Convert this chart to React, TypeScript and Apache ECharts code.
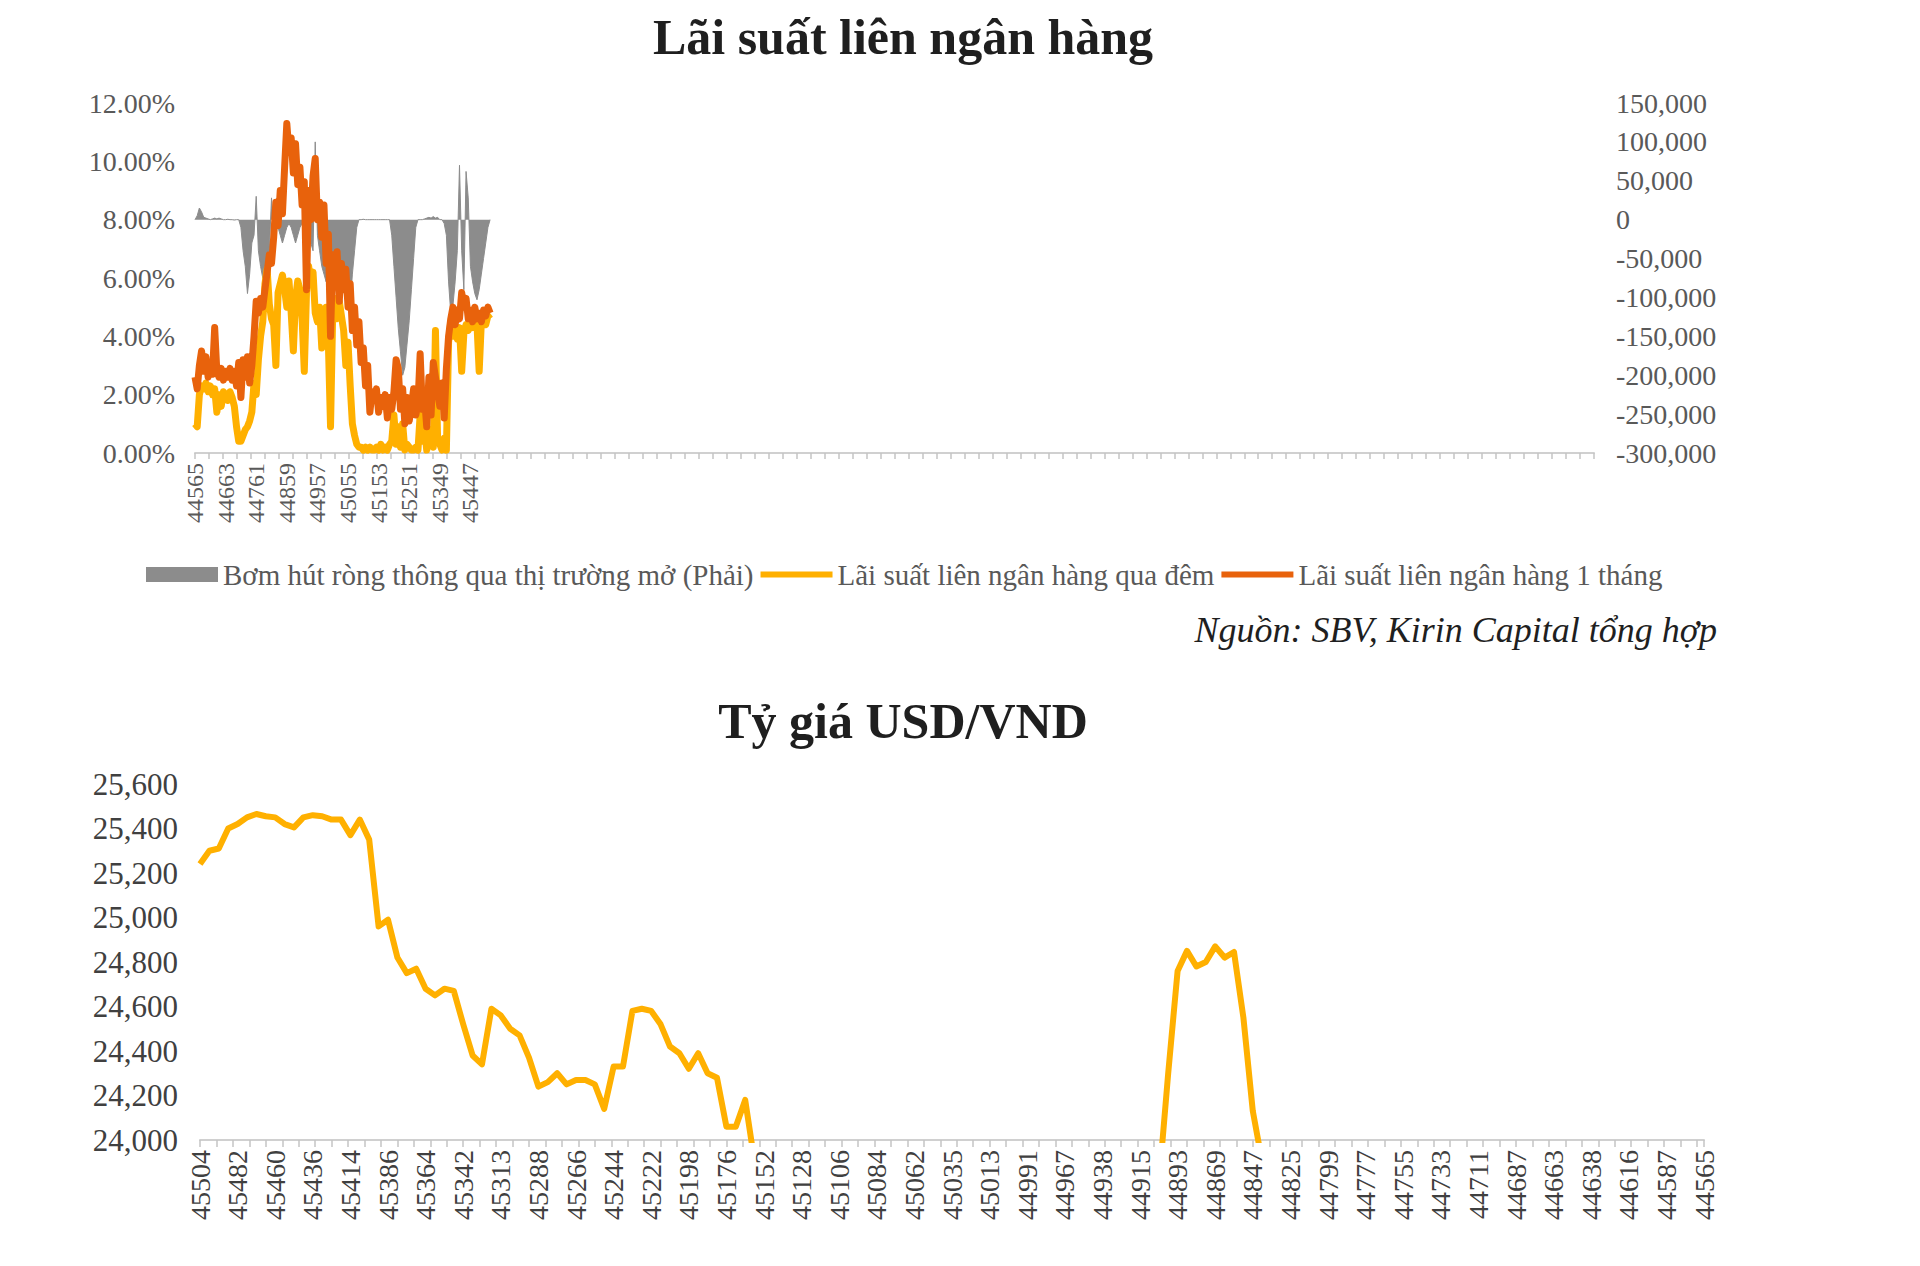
import React, { useEffect, useRef } from 'react';
import * as echarts from 'echarts';

const FONT = '"Liberation Serif", "Times New Roman", serif';

const TOP_TITLE = 'Lãi suất liên ngân hàng';
const BOTTOM_TITLE = 'Tỷ giá USD/VND';
const SOURCE = 'Nguồn: SBV, Kirin Capital tổng hợp';
const NAME_NET = 'Bơm hút ròng thông qua thị trường mở (Phải)';
const NAME_ON = 'Lãi suất liên ngân hàng qua đêm';
const NAME_1M = 'Lãi suất liên ngân hàng 1 tháng';

// ---- Top chart: interbank rates (x = trading-day index) ----
const TOP_X_LABELS = ['44565', '44663', '44761', '44859', '44957', '45055', '45153', '45251', '45349', '45447'];
const TOP_LABEL_STEP = 70;
const TOP_TICK_STEP = 32;
const TOP_X_MAX = 3200;
const TOP_SAMPLE_STEP = 5;

const oneMonth = [
  2.6, 2.2, 3.0, 3.5, 2.8, 3.3, 2.6, 3.0, 2.7, 4.3,
  2.8, 2.6, 2.9, 2.5, 2.8, 2.6, 2.9, 2.5, 2.8, 2.3,
  3.1, 1.9, 3.2, 2.6, 3.3, 2.4, 3.0, 4.0, 5.2, 4.8,
  5.3, 5.0, 5.6, 6.2, 6.8, 6.5, 7.4, 8.6, 7.8, 9.0,
  8.2, 9.8, 11.3, 10.3, 10.8, 9.6, 10.6, 9.2, 9.8, 8.5,
  9.3, 5.6, 9.0, 8.0, 9.5, 10.1, 8.0, 8.6, 7.4, 8.5,
  6.5, 7.5, 4.0, 6.8, 6.0, 6.9, 5.2, 6.5, 5.6, 6.3,
  5.0, 5.8, 4.2, 5.0, 3.7, 4.5, 3.1, 3.6, 2.3, 3.0,
  1.4, 2.1, 1.8, 2.2, 1.4, 1.9, 1.6, 2.0, 1.2, 1.9,
  1.5, 2.1, 3.2, 2.9, 1.5, 2.2, 1.0, 1.9, 1.1, 1.6,
  2.2, 1.3, 1.7, 3.4, 1.5, 1.9, 0.9, 2.6, 1.3, 3.1,
  2.6, 2.1, 1.6, 2.4, 1.2, 2.9, 4.0, 4.6, 5.0, 4.4,
  4.9, 4.6, 5.5, 5.0, 5.3, 4.6, 4.9, 4.5, 5.0, 4.6,
  4.8, 4.5, 4.9, 4.7, 5.0, 4.8,
];

const overnight = [
  1.0, 0.9, 2.0, 2.3, 2.2, 2.4, 2.1, 2.3, 2.0, 2.2,
  1.4, 2.0, 1.6, 2.1, 2.0, 1.8, 2.1, 1.9, 1.6, 0.9,
  0.4, 0.4, 0.6, 0.8, 0.9, 1.1, 1.4, 2.4, 2.0, 3.2,
  4.0, 4.5, 5.8, 6.3, 5.1, 4.6, 4.4, 3.0, 5.5, 5.8,
  6.1, 5.6, 5.0, 5.9, 4.8, 3.5, 5.3, 5.9, 5.6, 4.6,
  2.8, 5.5, 6.4, 5.8, 6.2, 4.8, 4.5, 5.0, 3.6, 4.4,
  5.0, 3.8, 0.9, 4.8, 5.3, 4.6, 5.2, 4.7, 4.2, 3.0,
  3.8, 2.3, 1.0, 0.6, 0.3, 0.2, 0.2, 0.1, 0.2, 0.1,
  0.2, 0.1, 0.1, 0.2, 0.1, 0.3, 0.1, 0.2, 0.1, 0.3,
  0.4, 1.3, 0.3, 0.9, 0.2, 1.0, 0.1, 0.3, 0.2, 0.1,
  0.1, 0.2, 0.1, 1.3, 0.4, 0.9, 0.1, 0.5, 0.8, 0.2,
  4.2, 0.4, 0.3, 0.1, 0.5, 0.1, 3.8, 4.5, 4.0, 4.2,
  3.9, 4.3, 2.8, 4.1, 4.4, 4.2, 4.5, 4.3, 4.6, 4.4,
  2.8, 4.5, 4.6, 4.4, 4.7, 4.6,
];

const netInjection = [
  0, 5000, 15000, 10000, 3000, 2000, 1000, 0, 1000, 2000,
  1000, 2000, 1000, 0, 0, 500, 0, 0, -500, 0,
  0, -10000, -40000, -60000, -95000, -70000, -30000, -20000, 30000, -40000,
  -60000, -75000, -80000, -50000, -40000, 28000, -10000, -5000, -10000, -20000,
  -30000, -20000, -10000, -5000, -10000, -20000, -30000, -20000, -10000, -5000,
  0, -20000, -10000, -30000, -40000, 100000, -20000, -40000, -60000, -70000,
  -80000, -30000, -40000, -50000, -55000, -60000, -70000, -80000, -90000, -100000,
  -105000, -110000, -70000, -40000, -10000, 0, 0, 500, 0, 0,
  0, 0, 0, 0, 0, 0, 0, 0, 0, 0,
  -20000, -60000, -100000, -140000, -170000, -200000, -190000, -160000, -130000, -90000,
  -50000, -10000, 0, 0, 0, 1000, 2000, 3000, 2000, 4000,
  2000, 3000, 0, 0, -5000, -20000, -80000, -120000, -110000, -80000,
  -40000, 70000, -40000, -90000, 62000, 28000, -60000, -80000, -95000, -103000,
  -90000, -70000, -50000, -30000, -10000, 0,
];

// ---- Bottom chart: USD/VND (x = trading-day index, newest on the left) ----
const BOTTOM_X_LABELS = [
  '45504', '45482', '45460', '45436', '45414', '45386', '45364', '45342', '45313', '45288',
  '45266', '45244', '45222', '45198', '45176', '45152', '45128', '45106', '45084', '45062',
  '45035', '45013', '44991', '44967', '44938', '44915', '44893', '44869', '44847', '44825',
  '44799', '44777', '44755', '44733', '44711', '44687', '44663', '44638', '44616', '44587',
  '44565',
];
const BOTTOM_LABEL_STEP = 16;
const BOTTOM_TICK_STEP = 7;
const BOTTOM_X_MAX = 640;
const BOTTOM_SAMPLE_STEP = 4;

const usdVnd = [
  25240, 25300, 25310, 25400, 25420, 25450, 25465, 25455, 25450, 25420,
  25405, 25450, 25460, 25455, 25440, 25440, 25370, 25440, 25350, 24960,
  24990, 24820, 24750, 24770, 24680, 24650, 24680, 24670, 24520, 24380,
  24340, 24590, 24560, 24500, 24470, 24370, 24240, 24260, 24300, 24250,
  24270, 24270, 24250, 24140, 24330, 24330, 24580, 24590, 24580, 24520,
  24420, 24390, 24320, 24390, 24300, 24280, 24060, 24060, 24180, 23900,
  23850, 23800, 23780, 23750, 23720, 23700, 23690, 23680, 23650, 23620,
  23600, 23580, 23560, 23540, 23520, 23500, 23480, 23470, 23460, 23450,
  23460, 23470, 23480, 23500, 23520, 23550, 23580, 23600, 23620, 23640,
  23660, 23650, 23640, 23630, 23620, 23600, 23580, 23560, 23600, 23650,
  23700, 23750,
  23800, 24300, 24760, 24850, 24780, 24800, 24870, 24820, 24845, 24550,
  24130, 23900,
  23900, 23860, 23800, 23720, 23690, 23650, 23600, 23560, 23480, 23470,
  23420, 23400, 23380, 23390, 23350, 23300, 23320, 23280, 23260, 23270,
  23230, 23250, 23210, 23200, 23220, 23190, 23170, 23180, 23140, 23160,
  23120, 23100, 23130, 23090, 23080, 23110, 23060, 23040, 23070, 23020,
  23010, 23050, 23000, 22990, 23020, 22980, 22960,
];

const GRAY = '#8c8c8c';
const YELLOW = '#FFB000';
const ORANGE = '#E8620C';
const AXIS_LINE = '#d0d0d0';
// legend icon: a thick horizontal bar centred in a 72x15 box
const LINE_ICON = 'path://M0,0 L0,0 M0,4.5 L72,4.5 L72,10.5 L0,10.5 Z M72,15 L72,15';

function toPairs(values: number[], step: number) {
  return values.map((v, i) => [i * step, v]);
}

function labelAt(labels: string[], step: number) {
  return (v: number) => {
    const k = Math.round(v / step);
    if (Math.abs(v - k * step) > 1e-6) return '';
    return labels[k] ?? '';
  };
}

export default function App() {
  const ref = useRef<HTMLDivElement>(null);

  useEffect(() => {
    document.body.style.margin = '0';
    if (!ref.current) return;
    const chart = echarts.init(ref.current, undefined, { renderer: 'svg' });

    const option: any = {
      animation: false,
      backgroundColor: '#ffffff',
      textStyle: { fontFamily: FONT },
      graphic: [
        {
          type: 'text', x: 903, y: 37, silent: true,
          style: { text: TOP_TITLE, fontFamily: FONT, fontSize: 50, fontWeight: 'bold', fill: '#1f1f1f', align: 'center', verticalAlign: 'middle' },
        },
        {
          type: 'text', x: 903, y: 721, silent: true,
          style: { text: BOTTOM_TITLE, fontFamily: FONT, fontSize: 50, fontWeight: 'bold', fill: '#1f1f1f', align: 'center', verticalAlign: 'middle' },
        },
        {
          type: 'text', x: 1717, y: 630, silent: true,
          style: { text: SOURCE, fontFamily: FONT, fontSize: 36, fontStyle: 'italic', fill: '#1f1f1f', align: 'right', verticalAlign: 'middle' },
        },
      ],
      legend: {
        left: 141,
        top: 555,
        itemWidth: 72,
        itemHeight: 15,
        itemGap: 7,
        textStyle: { fontFamily: FONT, fontSize: 29, color: '#595959' },
        data: [
          { name: NAME_NET, icon: 'rect' },
          { name: NAME_ON, icon: LINE_ICON },
          { name: NAME_1M, icon: LINE_ICON },
        ],
      },
      grid: [
        { left: 195, top: 103, width: 1399, height: 350, containLabel: false },
        { left: 200, top: 784, width: 1504, height: 356, containLabel: false },
      ],
      xAxis: [
        {
          gridIndex: 0, type: 'value', position: 'bottom', min: 0, max: TOP_X_MAX, interval: TOP_LABEL_STEP,
          axisLine: { show: true, onZero: false, lineStyle: { color: AXIS_LINE, width: 2 } },
          axisTick: { show: false },
          splitLine: { show: false },
          axisLabel: {
            rotate: 90, margin: 10, fontFamily: FONT, fontSize: 24, color: '#595959',
            formatter: labelAt(TOP_X_LABELS, TOP_LABEL_STEP),
          },
        },
        {
          gridIndex: 0, type: 'value', position: 'bottom', min: 0, max: TOP_X_MAX, interval: TOP_TICK_STEP,
          axisLine: { show: false, onZero: false },
          axisTick: { show: true, length: 6, lineStyle: { color: '#c4c4c4', width: 1.5 } },
          axisLabel: { show: false },
          splitLine: { show: false },
        },
        {
          gridIndex: 1, type: 'value', position: 'bottom', min: 0, max: BOTTOM_X_MAX, interval: BOTTOM_LABEL_STEP,
          axisLine: { show: true, onZero: false, lineStyle: { color: AXIS_LINE, width: 2 } },
          axisTick: { show: false },
          splitLine: { show: false },
          axisLabel: {
            rotate: 90, margin: 10, fontFamily: FONT, fontSize: 28, color: '#404040',
            formatter: labelAt(BOTTOM_X_LABELS, BOTTOM_LABEL_STEP),
          },
        },
        {
          gridIndex: 1, type: 'value', position: 'bottom', min: 0, max: BOTTOM_X_MAX, interval: BOTTOM_TICK_STEP,
          axisLine: { show: false, onZero: false },
          axisTick: { show: true, length: 7, lineStyle: { color: '#c4c4c4', width: 1.5 } },
          axisLabel: { show: false },
          splitLine: { show: false },
        },
      ],
      yAxis: [
        {
          gridIndex: 0, type: 'value', position: 'left', min: 0, max: 12, interval: 2,
          axisLine: { show: false }, axisTick: { show: false }, splitLine: { show: false },
          axisLabel: { margin: 20, fontFamily: FONT, fontSize: 28, color: '#595959', formatter: (v: number) => v.toFixed(2) + '%' },
        },
        {
          gridIndex: 0, type: 'value', position: 'right', min: -300000, max: 150000, interval: 50000,
          axisLine: { show: false }, axisTick: { show: false }, splitLine: { show: false },
          axisLabel: { margin: 22, fontFamily: FONT, fontSize: 28, color: '#595959', formatter: (v: number) => v.toLocaleString('en-US') },
        },
        {
          gridIndex: 1, type: 'value', position: 'left', min: 24000, max: 25600, interval: 200,
          axisLine: { show: false }, axisTick: { show: false }, splitLine: { show: false },
          axisLabel: { margin: 22, fontFamily: FONT, fontSize: 31, color: '#404040', formatter: (v: number) => v.toLocaleString('en-US') },
        },
      ],
      series: [
        {
          name: NAME_NET, type: 'line', xAxisIndex: 0, yAxisIndex: 1,
          data: toPairs(netInjection, TOP_SAMPLE_STEP),
          symbol: 'none',
          itemStyle: { color: GRAY },
          lineStyle: { color: GRAY, width: 1 },
          areaStyle: { color: GRAY, opacity: 1 },
          z: 1,
        },
        {
          name: NAME_ON, type: 'line', xAxisIndex: 0, yAxisIndex: 0,
          data: toPairs(overnight, TOP_SAMPLE_STEP),
          symbol: 'none',
          itemStyle: { color: YELLOW },
          lineStyle: { color: YELLOW, width: 7, join: 'round' },
          z: 2,
        },
        {
          name: NAME_1M, type: 'line', xAxisIndex: 0, yAxisIndex: 0,
          data: toPairs(oneMonth, TOP_SAMPLE_STEP),
          symbol: 'none',
          itemStyle: { color: ORANGE },
          lineStyle: { color: ORANGE, width: 7, join: 'round' },
          z: 3,
        },
        {
          name: 'USD/VND', type: 'line', xAxisIndex: 2, yAxisIndex: 2,
          data: toPairs(usdVnd, BOTTOM_SAMPLE_STEP),
          symbol: 'none',
          clip: true,
          itemStyle: { color: YELLOW },
          lineStyle: { color: YELLOW, width: 6, join: 'round' },
          z: 2,
        },
      ],
    };

    chart.setOption(option);
    return () => chart.dispose();
  }, []);

  return <div ref={ref} style={{ width: 1920, height: 1266, background: '#fff' }} />;
}
